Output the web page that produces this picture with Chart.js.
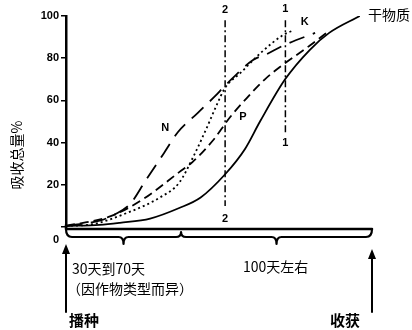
<!DOCTYPE html>
<html>
<head>
<meta charset="utf-8">
<script src="https://cdn.jsdelivr.net/npm/chart.js@4"></script>
<style>
  html, body { margin: 0; padding: 0; background: #fff; }
</style>
</head>
<body>
<canvas id="uptakeChart" width="412" height="330"></canvas>
<script>
// growth period, 0 = sowing, 100 = harvest
const dryX = [0, 11, 17.6, 27.5, 37, 44, 52, 58.5, 63.4, 71.6, 79.7, 86, 96];
const dryY = [0.5, 1, 2, 4, 9, 14, 25, 37, 50, 70, 84, 92, 100];

const nX = [0, 11, 16, 21, 26, 32, 36.6, 43, 48.7, 52, 61, 65.7, 71, 81.4];
const nY = [0.5, 3, 6, 11, 22, 35, 45, 54, 62, 67, 79, 82, 86, 92];

const pX = [0, 14.4, 25, 37, 41.5, 48, 53.6, 59, 65, 71, 79.7, 86];
const pY = [0.5, 5, 13, 26, 31, 41, 52, 61, 70, 77, 86, 93];

const kX = [0, 9, 20, 30.7, 37, 41.5, 46, 49, 52, 57, 64, 71, 74];
const kY = [0.5, 1.4, 6.7, 14, 21, 33, 47, 57, 66, 73, 83, 91, 93];

const yTicks = [0, 20, 40, 60, 80, 100];

// the two marker lines (2 = earlier, 1 = later)
const line2X = 52, line2Y = [98, 10];
const line1X = 71.7, line1Y = [98, 44];

// end of the first growth phase (30 to 70 days)
const phaseSplit = 37.6;

const toPoints = (xs, ys) => xs.map((x, i) => ({ x: x, y: ys[i] }));

const curveLabels = [
    { text: "N", x: 32.4, y: 47 },
    { text: "P", x: 57.8, y: 52 },
    { text: "K", x: 78, y: 97 },
    { text: "2", x: line2X, y: 103 },
    { text: "2", x: line2X, y: 4 },
    { text: "1", x: line1X, y: 103.5 },
    { text: "1", x: line1X, y: 40 }
];

const extras = {
    id: "extras",
    afterDraw(chart) {
        const c = chart.ctx;
        const xs = chart.scales.x, ys = chart.scales.y;
        const L = xs.getPixelForValue(0), R = xs.getPixelForValue(100);
        const base = ys.getPixelForValue(0) + 2;
        const b = base + 8;
        const tip1 = xs.getPixelForValue(phaseSplit / 2);
        const mid = xs.getPixelForValue(phaseSplit);
        const tip2 = xs.getPixelForValue((phaseSplit + 100) / 2);

        c.save();
        c.strokeStyle = "#000";
        c.fillStyle = "#000";
        c.lineCap = "round";
        c.lineJoin = "round";

        // axis bottom line
        c.lineWidth = 2.5;
        c.beginPath();
        c.moveTo(L, ys.getPixelForValue(0) - 2);
        c.lineTo(L, base);
        c.lineTo(R, base);
        c.stroke();

        // braces under the axis
        c.lineWidth = 2.2;
        c.beginPath();
        c.moveTo(L, base);
        c.quadraticCurveTo(L, b, L + 6, b);
        c.lineTo(tip1 - 5, b);
        c.quadraticCurveTo(tip1, b, tip1, b + 7);
        c.quadraticCurveTo(tip1, b, tip1 + 5, b);
        c.lineTo(mid - 5, b);
        c.quadraticCurveTo(mid, b, mid, b - 5);
        c.quadraticCurveTo(mid, b, mid + 5, b);
        c.lineTo(tip2 - 5, b);
        c.quadraticCurveTo(tip2, b, tip2, b + 7);
        c.quadraticCurveTo(tip2, b, tip2 + 5, b);
        c.lineTo(R - 6, b);
        c.quadraticCurveTo(R, b, R, base);
        c.stroke();

        // sowing / harvest arrows
        const arrow = (x, top, bottom) => {
            c.lineWidth = 2;
            c.beginPath();
            c.moveTo(x, bottom);
            c.lineTo(x, top + 6);
            c.stroke();
            c.beginPath();
            c.moveTo(x, top);
            c.lineTo(x - 4, top + 10);
            c.lineTo(x + 4, top + 10);
            c.closePath();
            c.fill();
        };
        arrow(L, base + 15, 312);
        arrow(R, base + 20, 312);

        // curve and marker labels
        c.textAlign = "center";
        c.textBaseline = "middle";
        c.font = "bold 11px 'Liberation Sans', Arial, sans-serif";
        curveLabels.forEach(l => {
            c.fillText(l.text, xs.getPixelForValue(l.x), ys.getPixelForValue(l.y));
        });

        // chinese captions
        c.font = "14px 'Noto Sans CJK SC', sans-serif";
        c.textAlign = "left";
        c.fillText("干物质", xs.getPixelForValue(98.7), ys.getPixelForValue(100) - 1);
        c.fillText("30天到70天", L + 6, base + 40);
        c.fillText("（因作物类型而异）", L + 1, base + 60);
        c.textAlign = "center";
        c.fillText("100天左右", xs.getPixelForValue(68.5), base + 38);
        c.font = "bold 15px 'Noto Sans CJK SC', sans-serif";
        c.textAlign = "left";
        c.fillText("播种", L + 3, 320);
        c.fillText("收获", R - 42, 320);

        // y axis title
        c.font = "14px 'Noto Sans CJK SC', sans-serif";
        c.translate(17, 155);
        c.rotate(-Math.PI / 2);
        c.textAlign = "center";
        c.fillText("吸收总量%", 0, 0);
        c.restore();
    }
};

const curve = (label, xs, ys, dash) => ({
    label: label,
    data: toPoints(xs, ys),
    borderColor: "#000",
    borderWidth: 1.8,
    borderDash: dash,
    pointRadius: 0,
    fill: false,
    cubicInterpolationMode: "monotone"
});

const marker = (x, ys) => ({
    data: ys.map(y => ({ x: x, y: y })),
    borderColor: "#000",
    borderWidth: 1.5,
    borderDash: [7, 3, 2, 3],
    pointRadius: 0,
    clip: false
});

new Chart(document.getElementById("uptakeChart").getContext("2d"), {
    type: "line",
    data: {
        datasets: [
            curve("干物质", dryX, dryY, []),
            curve("N", nX, nY, [16, 9]),
            curve("P", pX, pY, [9, 5]),
            curve("K", kX, kY, [2, 3]),
            marker(line2X, line2Y),
            marker(line1X, line1Y)
        ]
    },
    options: {
        responsive: false,
        animation: false,
        layout: { padding: { left: 0, right: 40, top: 16, bottom: 103 } },
        plugins: { legend: { display: false }, tooltip: { enabled: false } },
        scales: {
            x: { type: "linear", min: 0, max: 100, display: false },
            y: {
                min: 0,
                max: 100,
                afterFit: s => { s.width = 66; },
                afterBuildTicks: s => { s.ticks = yTicks.map(v => ({ value: v })); },
                border: { display: true, color: "#000", width: 2.5 },
                grid: { drawOnChartArea: false, color: "#000", lineWidth: 1.5, tickLength: 5 },
                ticks: {
                    color: "#000",
                    padding: 2,
                    autoSkip: false,
                    // the zero label sits a little below the axis in the original
                    callback: v => v === 0 ? ["", "", "0"] : v,
                    font: { family: "'Liberation Sans', Arial, sans-serif", size: 11, weight: "bold" }
                }
            }
        }
    },
    plugins: [extras]
});
</script>
</body>
</html>
